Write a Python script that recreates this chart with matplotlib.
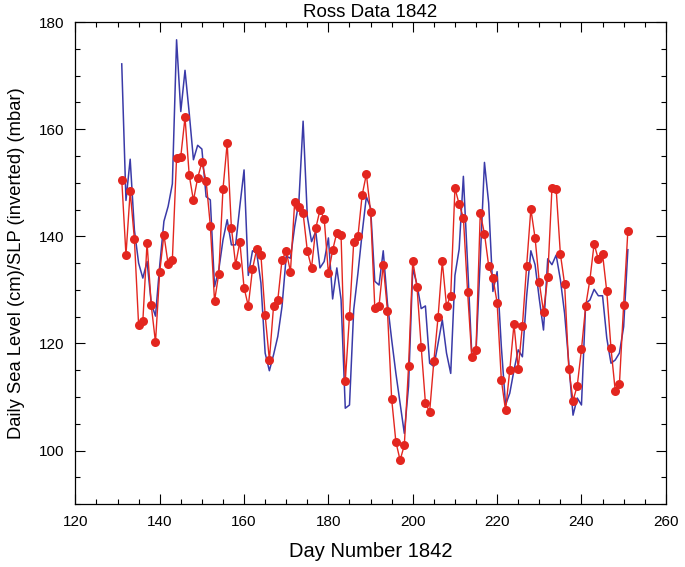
import numpy as np
import matplotlib
matplotlib.use("Agg")
import matplotlib.pyplot as plt
from matplotlib.ticker import MultipleLocator

# Dati (giorni 131-251 del 1842)
days = np.arange(131, 252)

sea_level = [
    150.6, 136.5, 148.4, 139.5, 123.4, 124.1, 138.8, 127.1, 120.2, 133.3,
    140.3, 134.8, 135.6, 154.7, 154.9, 162.2, 151.4, 146.7, 150.9, 153.8,
    150.4, 142.0, 127.9, 133.0, 148.8, 157.4, 141.6, 134.7, 139.0, 130.4,
    127.0, 133.9, 137.6, 136.5, 125.3, 116.9, 127.0, 128.1, 135.6, 137.2,
    133.4, 146.4, 145.5, 144.3, 137.3, 134.1, 141.5, 144.9, 143.3, 133.1,
    137.4, 140.7, 140.2, 112.9, 125.2, 138.9, 140.0, 147.7, 151.6, 144.6,
    126.7, 127.0, 134.7, 126.1, 109.6, 101.6, 98.2, 101.0, 115.7, 135.4,
    130.6, 119.3, 108.9, 107.2, 116.7, 124.9, 135.3, 127.0, 128.9, 149.0,
    146.0, 143.5, 129.6, 117.4, 118.8, 144.3, 140.5, 134.5, 132.3, 127.6,
    113.2, 107.5, 115.0, 123.6, 115.3, 123.3, 134.5, 145.1, 139.7, 131.4,
    125.9, 132.4, 149.0, 148.8, 136.7, 131.1, 115.2, 109.3, 112.1, 118.9,
    127.0, 131.9, 138.6, 135.7, 136.7, 129.7, 119.1, 111.2, 112.4, 127.2,
    141.0,
]

slp_inverted = [
    172.2, 146.7, 154.4, 141.2, 135.0, 132.2, 135.3, 127.5, 125.1, 134.5,
    142.8, 145.6, 149.8, 176.7, 163.3, 171.0, 163.0, 154.3, 157.0, 156.3,
    147.4, 146.8, 130.6, 133.7, 139.3, 143.1, 138.4, 138.4, 145.6, 152.4,
    132.7, 137.3, 136.9, 131.3, 118.2, 114.9, 117.9, 121.3, 126.9, 136.3,
    135.9, 141.8, 146.5, 161.5, 143.7, 139.0, 140.9, 134.1, 135.3, 139.7,
    128.3, 134.1, 128.2, 107.9, 108.5, 126.3, 133.1, 140.6, 147.4, 145.3,
    131.6, 130.9, 137.3, 127.5, 120.7, 114.4, 108.8, 103.2, 112.0, 134.0,
    131.0, 126.5, 127.0, 116.3, 115.7, 120.0, 124.4, 118.2, 114.4, 132.7,
    137.6, 151.2, 134.8, 117.9, 118.5, 135.6, 153.8, 146.2, 129.7, 133.4,
    119.4, 108.5, 110.7, 115.0, 118.8, 117.5, 128.8, 137.3, 134.7, 128.3,
    122.5, 135.8, 134.7, 136.5, 131.9, 125.6, 116.3, 106.6, 109.8, 108.5,
    127.5, 128.1, 130.1, 128.9, 128.9, 121.0, 116.3, 116.9, 118.2, 123.1,
    137.5,
]

plt.rcParams['font.family'] = ['Liberation Sans', 'DejaVu Sans']

fig = plt.figure(figsize=(6.85, 5.67), dpi=100)
ax = fig.add_axes([0.110, 0.111, 0.862, 0.850])

ax.plot(days, slp_inverted, color='#3a3aa8', linewidth=1.1, zorder=2)
ax.plot(days, sea_level, color='#e3261f', linewidth=1.0,
        marker='o', markersize=6.5, markeredgewidth=0, zorder=3)

ax.set_xlim(120, 260)
ax.set_ylim(90, 180)
ax.xaxis.set_major_locator(MultipleLocator(20))
ax.xaxis.set_minor_locator(MultipleLocator(5))
ax.yaxis.set_major_locator(MultipleLocator(20))
ax.yaxis.set_minor_locator(MultipleLocator(5))

ax.tick_params(which='both', direction='in', top=True, right=True,
               width=0.8, labelsize=11, pad=8)
ax.tick_params(which='major', length=7)
ax.tick_params(which='minor', length=3.5)
for s in ax.spines.values():
    s.set_linewidth(0.9)

ax.set_title("Ross Data 1842", fontsize=13.5, pad=4)
ax.set_xlabel("Day Number 1842", fontsize=14.5, labelpad=9)
ax.set_ylabel("Daily Sea Level (cm)/SLP (inverted) (mbar)", fontsize=13.2, labelpad=10)

fig.savefig("out.png", dpi=100)
